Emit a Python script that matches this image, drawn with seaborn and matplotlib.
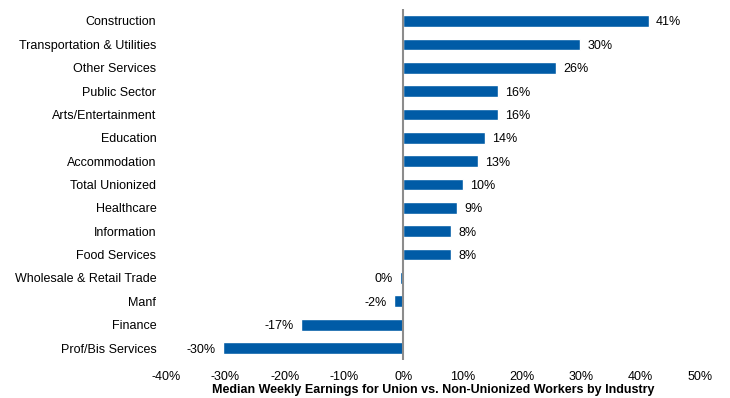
import matplotlib
matplotlib.use('Agg')
from matplotlib import pyplot as plt
import seaborn as sns
import pandas as pd

industries = ['Construction', 'Transportation & Utilities', 'Other Services',
              'Public Sector', 'Arts/Entertainment', 'Education', 'Accommodation',
              'Total Unionized', 'Healthcare', 'Information', 'Food Services',
              'Wholesale & Retail Trade', 'Manf', 'Finance', 'Prof/Bis Services']
premium = [41.4, 29.8, 25.8, 15.9, 15.9, 13.8, 12.6, 10.0, 9.1, 8.1, 8.1,
           -0.5, -1.6, -17.2, -30.4]
ticks = [-40, -30, -20, -10, 0, 10, 20, 30, 40, 50]

df = pd.DataFrame({'industry': industries, 'premium': premium})

sns.set_style('white')
plt.rcParams['font.family'] = ['Liberation Sans', 'DejaVu Sans']
plt.rcParams['text.color'] = 'black'
plt.rcParams['xtick.color'] = 'black'
plt.rcParams['ytick.color'] = 'black'
plt.rcParams['axes.labelcolor'] = 'black'

fig = plt.figure(figsize=(7.3, 3.98), dpi=100)
ax = fig.add_axes([0.2274, 0.0962, 0.7315, 0.8804])

sns.barplot(data=df, x='premium', y='industry', orient='h', color='#005BA6',
            saturation=1, width=0.5, ax=ax)

ax.axvline(0, color='#8c8c8c', lw=1.5, zorder=3)

for i, v in enumerate(premium):
    lab = f'{int(round(v))}%'
    if v >= 0:
        ax.text(v + 1.2, i, lab, va='center_baseline', ha='left', fontsize=9)
    else:
        ax.text(v - 1.2, i, lab, va='center_baseline', ha='right', fontsize=9)

ax.set_xlim(-40, 50)
ax.set_ylim(14.5, -0.5)
ax.set_xticks(ticks)
ax.set_xticklabels([f'{t}%' for t in ticks], fontsize=9)
ax.tick_params(axis='y', labelsize=9, length=0, pad=7)
ax.tick_params(axis='x', length=0, pad=8)
ax.set_ylabel('')
ax.set_xlabel('Median Weekly Earnings for Union vs. Non-Unionized Workers by Industry',
              fontsize=9, fontweight='bold', labelpad=1)
for s in ax.spines.values():
    s.set_visible(False)

fig.savefig('out.png', dpi=100)
